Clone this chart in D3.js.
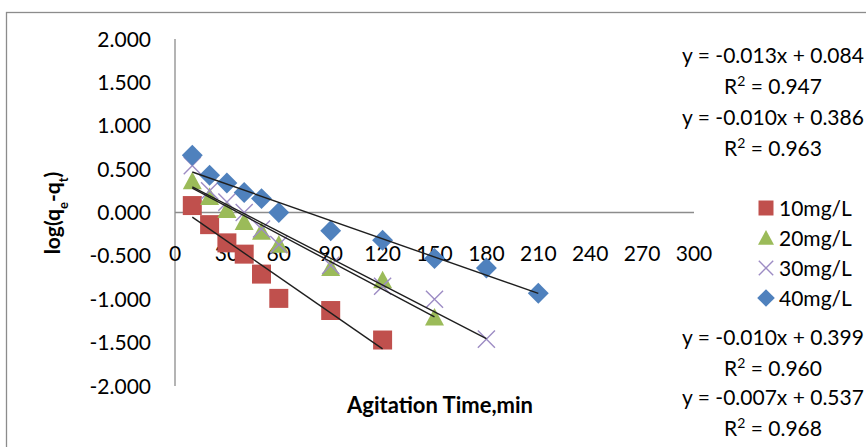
<!DOCTYPE html>
<html>
<head>
<meta charset="utf-8">
<script src="https://cdn.jsdelivr.net/npm/d3@7"></script>
<style>
	body { margin: 0; background: #fff; }
	text { font-family: Lato, "Open Sans", sans-serif; fill: #000; }
</style>
</head>
<body onload="onLoad()">
<div></div>
<script>
// agitation time (min)
var times10 = [10, 20, 30, 40, 50, 60, 90, 120],
	times20 = [10, 20, 30, 40, 50, 60, 90, 120, 150],
	times30 = [10, 20, 30, 40, 50, 60, 90, 120, 150, 180],
	times40 = [10, 20, 30, 40, 50, 60, 90, 120, 150, 180, 210];

// log(qe-qt)
var log10 = [0.08, -0.14, -0.35, -0.48, -0.71, -0.99, -1.13, -1.47],
	log20 = [0.36, 0.18, 0.03, -0.11, -0.22, -0.37, -0.64, -0.78, -1.21],
	log30 = [0.54, 0.25, 0.12, 0.00, -0.19, -0.37, -0.61, -0.85, -1.00, -1.46],
	log40 = [0.66, 0.43, 0.34, 0.23, 0.16, 0.00, -0.21, -0.32, -0.53, -0.64, -0.93];

var seriesNames = ["10mg/L", "20mg/L", "30mg/L", "40mg/L"];

// linear trend lines as drawn (slope, intercept, first x, last x)
var trendSlopes = [-0.0138, -0.0106, -0.0103, -0.0070],
	trendIntercepts = [0.084, 0.386, 0.399, 0.537],
	trendStart = [10, 10, 10, 10],
	trendEnd = [120, 150, 180, 210];

var equationLabels = ["y = -0.013x + 0.084", "y = -0.010x + 0.386", "y = -0.010x + 0.399", "y = -0.007x + 0.537"],
	rSquaredValues = ["0.947", "0.963", "0.960", "0.968"];

var xTicks = [0, 30, 60, 90, 120, 150, 180, 210, 240, 270, 300],
	yTicks = [2, 1.5, 1, 0.5, 0, -0.5, -1, -1.5, -2];

var colors = ["#C0504D", "#9BBB59", "#9d8cc4", "#4F81BD"];
var shapes = ["square", "triangle", "cross", "diamond"];

var svgContainer, xScale, yScale;

function onLoad() {
	svgContainer = d3.select("div")
	.append("svg")
	.attr("width", 866)
	.attr("height", 447);

	// chart frame
	svgContainer.append("rect")
	.attr("x", 6.5).attr("y", 12.5)
	.attr("width", 900).attr("height", 500)
	.attr("fill", "none")
	.attr("stroke", "#8c8c8c")
	.attr("stroke-width", 1.3);

	xScale = d3.scaleLinear().domain([0, 300]).range([175, 694]);
	yScale = d3.scaleLinear().domain([-2, 2]).range([386, 39]);

	drawAxes();

	var xs = [times10, times20, times30, times40],
		ys = [log10, log20, log30, log40];

	for (var i = 0; i < 4; i++) {
		var pts = xs[i].map((x, j) => ({x: x, y: ys[i][j]}));
		drawPoints(pts, shapes[i], colors[i], 19);
	}
	for (var i = 0; i < 4; i++) {
		drawTrend(i);
	}

	drawLegend();
	drawEquations();
}

function drawAxes() {
	svgContainer.append("line")
	.attr("x1", xScale(0)).attr("x2", xScale(0))
	.attr("y1", yScale(2)).attr("y2", yScale(-2))
	.attr("stroke", "#8c8c8c").attr("stroke-width", 1.3);

	svgContainer.append("line")
	.attr("x1", xScale(0)).attr("x2", xScale(300))
	.attr("y1", yScale(0)).attr("y2", yScale(0))
	.attr("stroke", "#8c8c8c").attr("stroke-width", 1.3);

	svgContainer.selectAll(".ytick")
	.data(yTicks)
	.enter().append("text")
	.attr("class", "ytick")
	.attr("x", 151)
	.attr("y", d => yScale(d))
	.attr("dy", "0.36em")
	.attr("text-anchor", "end")
	.style("font-size", "21px")
	.text(d => d3.format(".3f")(d).replace("−", "-"));

	svgContainer.selectAll(".xtick")
	.data(xTicks)
	.enter().append("text")
	.attr("class", "xtick")
	.attr("x", d => xScale(d))
	.attr("y", 253)
	.attr("dy", "0.36em")
	.attr("text-anchor", "middle")
	.style("font-size", "21px")
	.text(d => d);

	svgContainer.append("text")
	.attr("x", 440).attr("y", 405)
	.attr("dy", "0.36em")
	.attr("text-anchor", "middle")
	.style("font-size", "22px")
	.style("font-weight", "bold")
	.text("Agitation Time,min");

	var yTitle = svgContainer.append("text")
	.attr("transform", "translate(60,213) rotate(-90)")
	.attr("text-anchor", "middle")
	.style("font-size", "21px")
	.style("font-weight", "bold");
	yTitle.append("tspan").text("log(q");
	yTitle.append("tspan").attr("baseline-shift", "sub").style("font-size", "13px").text("e");
	yTitle.append("tspan").text("-q");
	yTitle.append("tspan").attr("baseline-shift", "sub").style("font-size", "13px").text("t");
	yTitle.append("tspan").text(")");
}

function markerPath(shape, s) {
	var h = s / 2;
	if (shape == "square") return "M" + (-h) + "," + (-h) + "h" + s + "v" + s + "h" + (-s) + "Z";
	if (shape == "triangle") return "M0," + (-h) + "L" + h + "," + (h * 0.85) + "L" + (-h) + "," + (h * 0.85) + "Z";
	if (shape == "diamond") return "M0," + (-h * 1.1) + "L" + (h * 1.1) + ",0L0," + (h * 1.1) + "L" + (-h * 1.1) + ",0Z";
	var c = h * 0.9;
	return "M" + (-c) + "," + (-c) + "L" + c + "," + c + "M" + (-c) + "," + c + "L" + c + "," + (-c);
}

function drawMarker(cx, cy, shape, color, size) {
	var p = svgContainer.append("path")
	.attr("d", markerPath(shape, size))
	.attr("transform", "translate(" + cx + "," + cy + ")");
	if (shape == "cross") {
		p.attr("fill", "none").attr("stroke", color).attr("stroke-width", 1.4);
	} else {
		p.attr("fill", color);
	}
}

function drawPoints(points, shape, color, size) {
	points.forEach((point) => {
		drawMarker(xScale(point.x), yScale(point.y), shape, color, size);
	});
}

function drawTrend(i) {
	var f = (x) => trendSlopes[i] * x + trendIntercepts[i];
	svgContainer.append("line")
	.attr("x1", xScale(trendStart[i]))
	.attr("y1", yScale(f(trendStart[i])))
	.attr("x2", xScale(trendEnd[i]))
	.attr("y2", yScale(f(trendEnd[i])))
	.attr("stroke", "#1f1f1f")
	.attr("stroke-width", 1.4);
}

function drawLegend() {
	for (var i = 0; i < seriesNames.length; i++) {
		var y = 208 + i * 30;
		drawMarker(766, y, shapes[i], colors[i], i == 0 ? 15 : 16);
		svgContainer.append("text")
		.attr("x", 779).attr("y", y)
		.attr("dy", "0.36em")
		.style("font-size", "21px")
		.text(seriesNames[i]);
	}
}

function drawEquations() {
	var rows = [55, 117, 337, 397];
	for (var i = 0; i < 4; i++) {
		svgContainer.append("text")
		.attr("x", 773).attr("y", rows[i])
		.attr("dy", "0.36em")
		.attr("text-anchor", "middle")
		.style("font-size", "21px")
		.text(equationLabels[i]);
		var r = svgContainer.append("text")
		.attr("x", 773).attr("y", rows[i] + 31)
		.attr("dy", "0.36em")
		.attr("text-anchor", "middle")
		.style("font-size", "21px");
		r.append("tspan").text("R");
		r.append("tspan").attr("baseline-shift", "super").style("font-size", "14px").text("2");
		r.append("tspan").text(" = " + rSquaredValues[i]);
	}
}
</script>
</body>
</html>
